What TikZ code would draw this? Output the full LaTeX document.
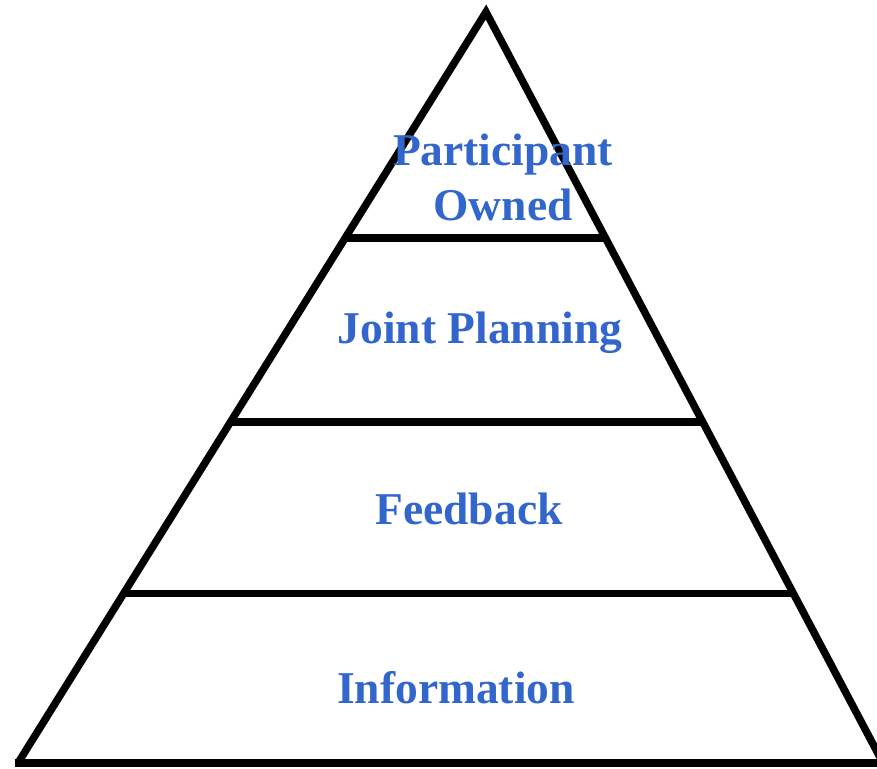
\documentclass[tikz,border=0pt]{standalone}
\usepackage{fontspec}
\setmainfont{Liberation Serif}
\usetikzlibrary{calc}
\definecolor{levelblue}{RGB}{51,102,204}
\tikzstyle{side} = [draw, line width=7.5pt, line join=miter]
\tikzstyle{level} = [text=levelblue, font=\fontsize{45.5}{55}\selectfont\bfseries, align=center, anchor=base, inner sep=0pt]

\begin{document}
\begin{tikzpicture}[x=1pt, y=-1pt]
\useasboundingbox (0,0) rectangle (877,768);
\coordinate (apex) at (486,12);
\coordinate (bl) at (18,763);
\coordinate (br) at (883,763);

% outline
\path [side] (bl) -- (apex) -- (br);
\path [side] ($(bl)+(-3,0)$) -- (br);

% levels
\path [side] ($(apex)!0.301!(bl)$) -- ($(apex)!0.301!(br)$);
\path [side] ($(apex)!0.546!(bl)$) -- ($(apex)!0.546!(br)$);
\path [side] ($(apex)!0.774!(bl)$) -- ($(apex)!0.774!(br)$);

\node [level] (owned) at (503,220) {Participant\\Owned};
\node [level] (joint) at (480,343) {Joint Planning};
\node [level] (feed) at (469,524) {Feedback};
\node [level] (info) at (456,703) {Information};
\end{tikzpicture}
\end{document}
